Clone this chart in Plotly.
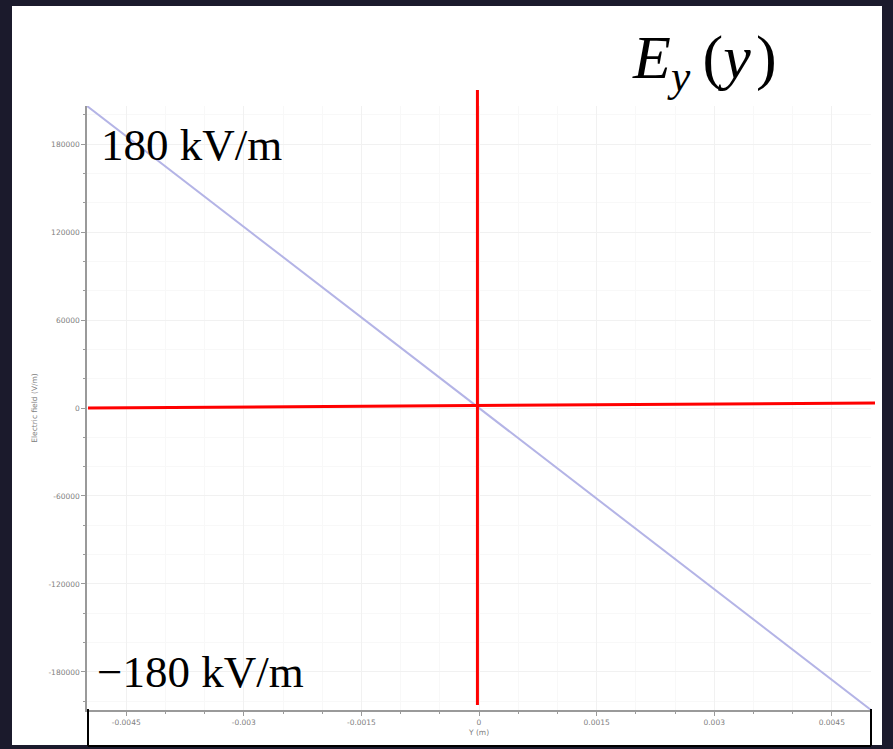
import plotly.graph_objects as go

# Data
y_pos = [-0.005, 0.0, 0.005]          # Y (m)
e_field = [206000, 0, -206000]        # Electric field (V/m)

x_tickvals = [-0.0045, -0.003, -0.0015, 0, 0.0015, 0.003, 0.0045]
x_ticktext = ["-0.0045", "-0.003", "-0.0015", "0", "0.0015", "0.003", "0.0045"]
y_tickvals = [180000, 120000, 60000, 0, -60000, -120000, -180000]
y_ticktext = ["180000", "120000", "60000", "0", "-60000", "-120000", "-180000"]

W, H = 893, 749
def px(x):
    return x / W
def py(y):
    return 1 - y / H

fig = go.Figure()
fig.add_trace(go.Scatter(
    x=y_pos, y=e_field, mode="lines",
    line=dict(color="#b4b4e6", width=2),
    showlegend=False, hoverinfo="skip",
))

axis_common = dict(
    showline=True, linecolor="#9a9a9a", linewidth=1.5,
    ticks="outside", ticklen=4, tickcolor="#9a9a9a",
    tickfont=dict(family="DejaVu Sans", size=7.5, color="#808080"),
    showgrid=True, gridcolor="#f1f1f1", gridwidth=1,
    zeroline=False, mirror=False,
)

fig.update_layout(
    width=W, height=H,
    margin=dict(l=0, r=0, t=0, b=0),
    paper_bgcolor="#1b1a2c",
    plot_bgcolor="white",
    xaxis=dict(
        domain=[px(87), px(871)], range=[-0.005, 0.005],
        tickvals=x_tickvals, ticktext=x_ticktext,
        minor=dict(dtick=0.0005, ticks="outside", ticklen=2, tickcolor="#9a9a9a",
                   showgrid=True, gridcolor="#f8f8f8"),
        title=dict(text="Y (m)", font=dict(family="DejaVu Sans", size=7.5, color="#808080"),
                   standoff=4),
        **axis_common,
    ),
    yaxis=dict(
        domain=[py(710), py(106)], range=[-206000, 206000],
        tickvals=y_tickvals, ticktext=y_ticktext,
        minor=dict(dtick=20000, ticks="outside", ticklen=2, tickcolor="#9a9a9a",
                   showgrid=True, gridcolor="#f8f8f8"),
        title=dict(text="Electric field (V/m)", font=dict(family="DejaVu Sans", size=7.5, color="#808080"),
                   standoff=10),
        **axis_common,
    ),
    shapes=[
        # white slide panel
        dict(type="rect", xref="paper", yref="paper",
             x0=px(12), x1=px(882), y0=py(745), y1=py(6),
             fillcolor="white", line=dict(width=0), layer="below"),
        # red crosshair: vertical at Y = 0
        dict(type="line", xref="x", yref="paper",
             x0=-0.00002, x1=-0.00002, y0=py(705), y1=py(90),
             line=dict(color="#ff0000", width=3)),
        # red crosshair: horizontal at E = 0
        dict(type="line", xref="paper", yref="y",
             x0=px(88), x1=px(875), y0=0, y1=3400,
             line=dict(color="#ff0000", width=3)),
        # black box lines below the x axis
        dict(type="line", xref="paper", yref="paper",
             x0=px(88), x1=px(88), y0=py(746), y1=py(709),
             line=dict(color="black", width=2)),
        dict(type="line", xref="paper", yref="paper",
             x0=px(871), x1=px(871), y0=py(746), y1=py(709),
             line=dict(color="black", width=2)),
        dict(type="line", xref="paper", yref="paper",
             x0=px(88), x1=px(871), y0=py(746), y1=py(746),
             line=dict(color="black", width=2)),
    ],
    annotations=[
        dict(text="180 kV/m", xref="paper", yref="paper",
             x=px(99), y=py(145), xanchor="left", yanchor="middle",
             showarrow=False, font=dict(family="Liberation Serif", size=45, color="black")),
        dict(text="\u2212180 kV/m", xref="paper", yref="paper",
             x=px(95), y=py(672), xanchor="left", yanchor="middle",
             showarrow=False, font=dict(family="Liberation Serif", size=45, color="black")),
        dict(text="<i>E</i><sub><i>y</i></sub>\u2009(<i>y</i>\u200a)", xref="paper", yref="paper",
             x=px(704), y=py(62), xanchor="center", yanchor="middle",
             showarrow=False, font=dict(family="Liberation Serif", size=62, color="black")),
    ],
)

fig.write_html("out.html")
